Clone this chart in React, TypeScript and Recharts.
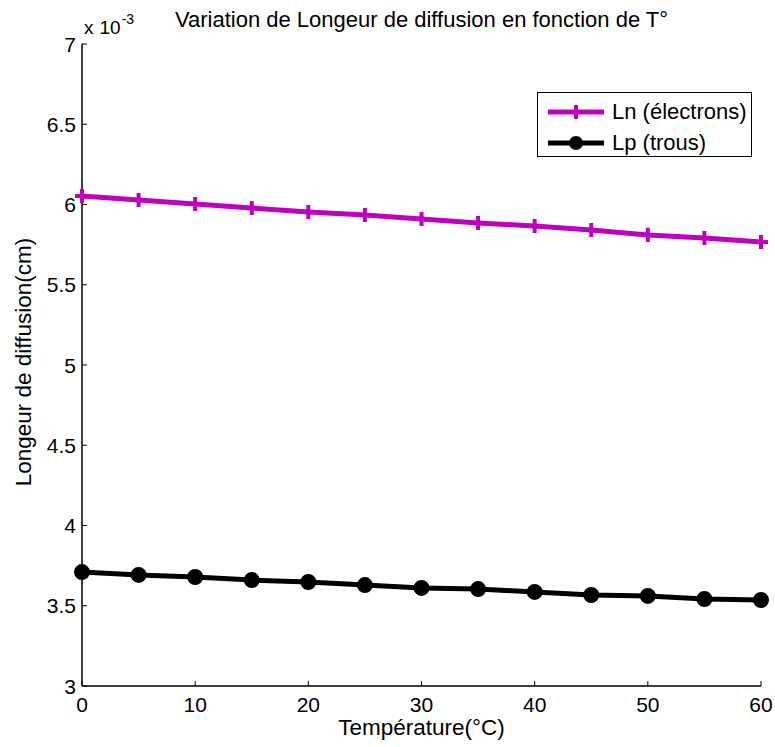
import React from 'react';
import { LineChart, Line, XAxis, YAxis } from 'recharts';

// Temperature (°C)
const temperatures = [0, 5, 10, 15, 20, 25, 30, 35, 40, 45, 50, 55, 60];
// Diffusion lengths, in units of 1e-3 cm
const lnElectrons = [6.053, 6.028, 6.003, 5.978, 5.953, 5.935, 5.91, 5.885, 5.866, 5.841, 5.81, 5.791, 5.766];
const lpTrous = [3.71, 3.692, 3.679, 3.66, 3.648, 3.629, 3.611, 3.604, 3.586, 3.567, 3.561, 3.542, 3.536];

const xTicks = [0, 10, 20, 30, 40, 50, 60];
const yTicks = [3, 3.5, 4, 4.5, 5, 5.5, 6, 6.5, 7];

const data = temperatures.map((t, i) => ({ t, ln: lnElectrons[i], lp: lpTrous[i] }));

const MAGENTA = '#BF00BF';
const FONT = '"Liberation Sans", Arial, sans-serif';
const TICK_FS = 21;

const PlusDot = (props: any) => {
  const { cx, cy } = props;
  if (cx == null || cy == null) return null;
  const s = 7;
  return (
    <path
      d={`M${cx - s},${cy}L${cx + s},${cy}M${cx},${cy - s}L${cx},${cy + s}`}
      stroke={MAGENTA}
      strokeWidth={4}
      fill="none"
    />
  );
};

const CircleDot = (props: any) => {
  const { cx, cy } = props;
  if (cx == null || cy == null) return null;
  return <circle cx={cx} cy={cy} r={7} fill="#000" stroke="#000" strokeWidth={2} />;
};

// tick text drawn by hand so the font size sticks
const XTick = (props: any) => {
  const { x, y, payload } = props;
  return (
    <text x={x} y={y} dy={15} textAnchor="middle" fill="#000" style={{ fontSize: TICK_FS, fontFamily: FONT }}>
      {payload.value}
    </text>
  );
};

const YTick = (props: any) => {
  const { x, y, payload } = props;
  return (
    <text x={x} y={y} dy={7.5} textAnchor="end" fill="#000" style={{ fontSize: TICK_FS, fontFamily: FONT }}>
      {payload.value}
    </text>
  );
};

export default function App() {
  return (
    <div style={{ position: 'absolute', left: 0, top: 0, width: 775, height: 747, background: '#fff', fontFamily: FONT }}>
      <LineChart width={775} height={747} data={data} margin={{ top: 44, right: 14, bottom: 31, left: 42 }}>
        <XAxis
          dataKey="t"
          type="number"
          domain={[0, 60]}
          ticks={xTicks}
          height={30}
          tickSize={-5}
          tickMargin={16}
          stroke="#000"
          axisLine={{ stroke: '#000', strokeWidth: 1.5 }}
          tick={<XTick />}
        />
        <XAxis
          xAxisId="top"
          orientation="top"
          dataKey="t"
          type="number"
          domain={[0, 60]}
          ticks={xTicks}
          height={0}
          tickSize={-5}
          tick={false}
          stroke="#000"
          axisLine={{ stroke: '#000', strokeWidth: 1.5 }}
        />
        <YAxis
          type="number"
          domain={[3, 7]}
          ticks={yTicks}
          width={40}
          tickSize={-5}
          tickMargin={11}
          stroke="#000"
          axisLine={{ stroke: '#000', strokeWidth: 1.5 }}
          tick={<YTick />}
        />
        <YAxis
          yAxisId="right"
          orientation="right"
          type="number"
          domain={[3, 7]}
          ticks={yTicks}
          width={0}
          tickSize={-5}
          tick={false}
          stroke="#000"
          axisLine={{ stroke: '#000', strokeWidth: 1.5 }}
        />
        <Line
          dataKey="ln"
          stroke={MAGENTA}
          strokeWidth={5}
          dot={<PlusDot />}
          isAnimationActive={false}
        />
        <Line
          dataKey="lp"
          stroke="#000"
          strokeWidth={5}
          dot={<CircleDot />}
          isAnimationActive={false}
        />
      </LineChart>

      {/* title */}
      <div style={{ position: 'absolute', left: 82, width: 679, top: 9, textAlign: 'center', fontSize: 22, lineHeight: '22px', whiteSpace: 'nowrap' }}>
        Variation de Longeur de diffusion en fonction de T°
      </div>
      {/* exponent */}
      <div style={{ position: 'absolute', left: 84, top: 18, fontSize: 19, lineHeight: '20px', whiteSpace: 'nowrap' }}>
        x<span style={{ marginLeft: 6 }}>10</span>
        <span style={{ fontSize: 14, position: 'relative', top: -10, marginLeft: 1 }}>-3</span>
      </div>
      {/* y label */}
      <div
        style={{
          position: 'absolute',
          left: 24,
          top: 362,
          fontSize: 22.5,
          lineHeight: '24px',
          whiteSpace: 'nowrap',
          transform: 'translate(-50%, -50%) rotate(-90deg)',
        }}
      >
        Longeur de diffusion(cm)
      </div>
      {/* x label */}
      <div style={{ position: 'absolute', left: 82, width: 679, top: 717, textAlign: 'center', fontSize: 22.5, lineHeight: '22px' }}>
        Température(°C)
      </div>
      {/* legend */}
      <div
        style={{
          position: 'absolute',
          left: 537,
          top: 92,
          width: 213,
          height: 63,
          border: '1px solid #000',
          background: '#fff',
          fontSize: 22,
        }}
      >
        {[
          { name: 'Ln (électrons)', color: MAGENTA, kind: 'plus' },
          { name: 'Lp (trous)', color: '#000', kind: 'circle' },
        ].map((it, i) => (
          <div key={it.name} style={{ position: 'absolute', left: 8, top: 7 + i * 31, height: 24, display: 'flex', alignItems: 'center' }}>
            <svg width={60} height={24}>
              <line x1={2} y1={12} x2={58} y2={12} stroke={it.color} strokeWidth={5} />
              {it.kind === 'plus' ? (
                <path d="M23,12L37,12M30,5L30,19" stroke={it.color} strokeWidth={4} />
              ) : (
                <circle cx={30} cy={12} r={7} fill={it.color} />
              )}
            </svg>
            <span style={{ marginLeft: 6, whiteSpace: 'nowrap' }}>{it.name}</span>
          </div>
        ))}
      </div>
    </div>
  );
}
